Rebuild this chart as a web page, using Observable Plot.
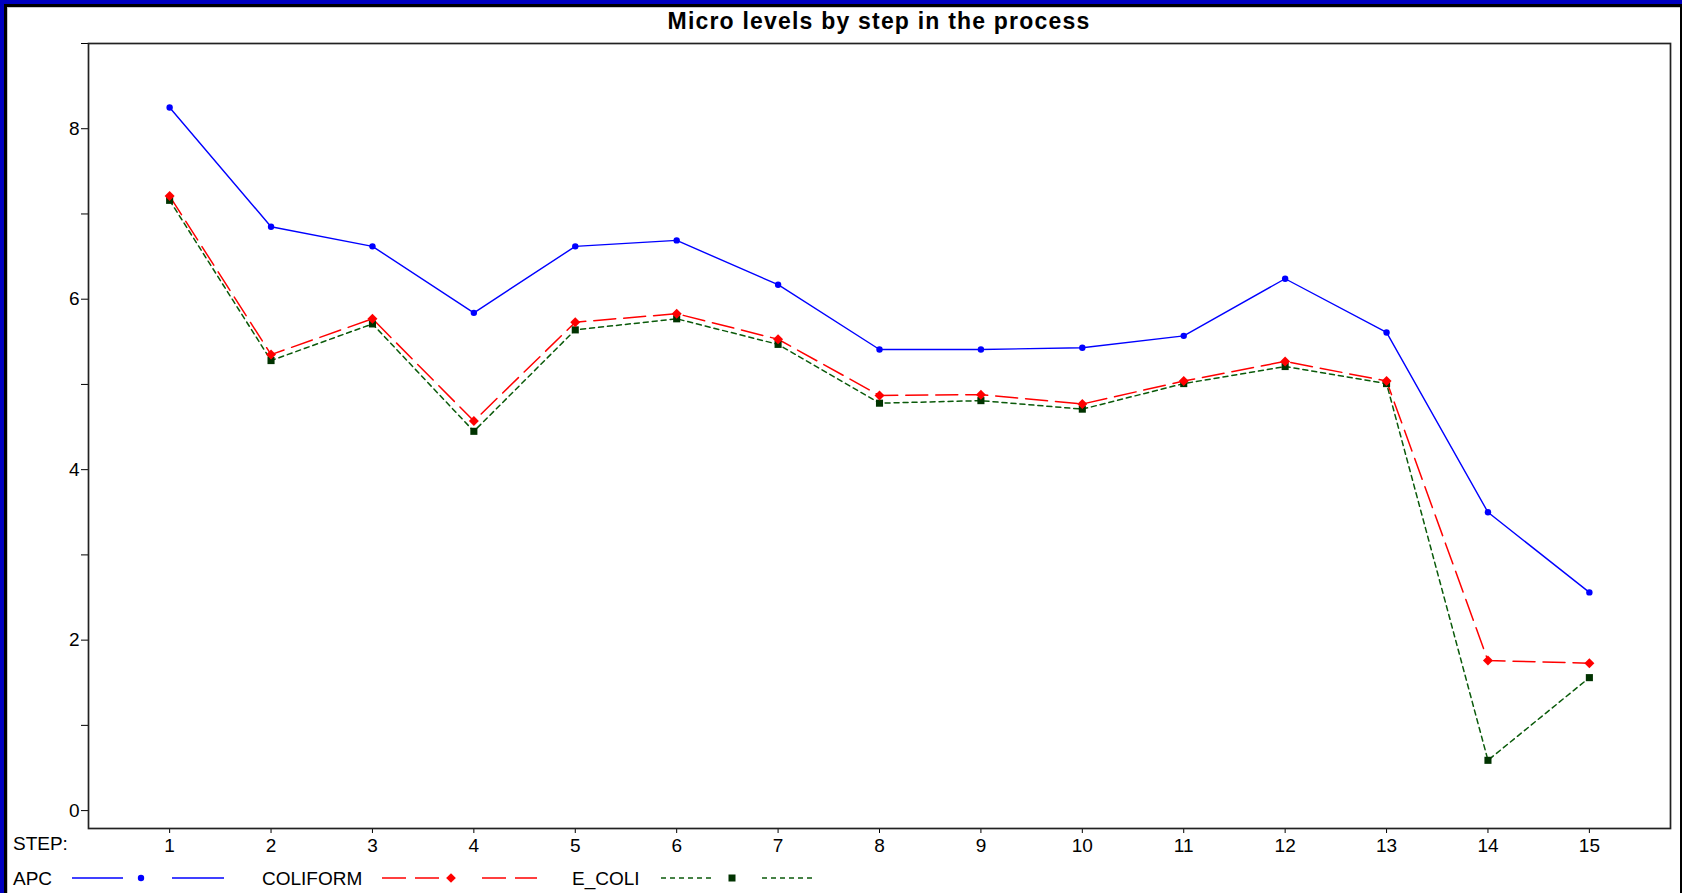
<!DOCTYPE html>
<html><head><meta charset="utf-8">
<script src="https://cdn.jsdelivr.net/npm/d3@7"></script>
<script src="https://cdn.jsdelivr.net/npm/@observablehq/plot@0.6"></script>
<style>
html,body{margin:0;padding:0;background:#fff;}
#page{position:relative;width:1682px;height:893px;overflow:hidden;background:#fff;font-family:"Liberation Sans",Arial,sans-serif;}
#b1{position:absolute;left:0;top:0;width:1682px;height:893px;box-sizing:border-box;border-left:4px solid #0000c0;border-top:4px solid #0000c0;}
#b2{position:absolute;left:4px;top:4px;width:1678px;height:889px;box-sizing:border-box;border-left:3px solid #000;border-top:3px solid #000;border-right:2px solid #000;}
#b3{position:absolute;left:7px;top:7px;width:1673px;height:886px;box-sizing:border-box;border-left:1px solid #c8c8c8;border-top:1px solid #c8c8c8;}
#chart{position:absolute;left:0;top:0;}
#title{position:absolute;left:0;width:1758px;top:8px;text-align:center;font-weight:bold;font-size:23px;letter-spacing:1.2px;color:#000;}
#steplab{position:absolute;left:13px;top:833px;font-size:19px;color:#000;}
#legend{position:absolute;left:0;top:860px;}
</style>
</head><body>
<div id="page">
  <div id="b1"></div><div id="b2"></div><div id="b3"></div>
  <div id="chart"></div>
  <div id="title">Micro levels by step in the process</div>
  <div id="steplab">STEP:</div>
  <div id="legend"></div>
</div>
<script>
const STEPS = [1,2,3,4,5,6,7,8,9,10,11,12,13,14,15];
const APC =      [8.25,6.85,6.62,5.84,6.62,6.69,6.17,5.41,5.41,5.43,5.57,6.24,5.61,3.50,2.56];
const COLIFORM = [7.21,5.35,5.77,4.57,5.73,5.83,5.53,4.87,4.88,4.77,5.04,5.27,5.04,1.76,1.73];
const E_COLI =   [7.16,5.28,5.71,4.45,5.64,5.77,5.47,4.78,4.81,4.71,5.01,5.21,5.01,0.59,1.56];
const Y_TICKS = [0,1,2,3,4,5,6,7,8,9];
const Y_LABELS = ["0","","2","","4","","6","","8",""];
const SERIES = ["APC","COLIFORM","E_COLI"];

const rows = STEPS.map((s,i)=>({step:s, APC:APC[i], COLIFORM:COLIFORM[i], E_COLI:E_COLI[i]}));

const BLUE="#0000ff", RED="#ff0000", GREEN="#0a5a0a", GREEN_M="#003300";

const chart = Plot.plot({
  width:1682, height:893,
  marginLeft:88, marginRight:12, marginTop:43, marginBottom:65,
  style:{fontFamily:"'Liberation Sans', Arial, sans-serif", fontSize:"19px", color:"#000", background:"transparent", overflow:"visible"},
  x:{domain:[0.2,15.8]},
  y:{domain:[-0.21,9]},
  marks:[
    Plot.axisX({ticks:STEPS, tickSize:5, tickPadding:5, tickFormat:d=>String(d), fontSize:19, label:null, stroke:"#000"}),
    Plot.axisY({ticks:Y_TICKS, tickSize:7, tickPadding:2, tickFormat:d=>Y_LABELS[Y_TICKS.indexOf(d)], fontSize:19, label:null, stroke:"#000"}),
    Plot.line(rows,{x:"step", y:"E_COLI", stroke:GREEN, strokeWidth:1.5, strokeDasharray:"5,4"}),
    Plot.line(rows,{x:"step", y:"COLIFORM", stroke:RED, strokeWidth:1.5, strokeDasharray:"22,8"}),
    Plot.line(rows,{x:"step", y:"APC", stroke:BLUE, strokeWidth:1.4}),
    Plot.dot(rows,{x:"step", y:"E_COLI", symbol:"square", r:4, fill:GREEN_M, stroke:"none"}),
    Plot.dot(rows,{x:"step", y:"COLIFORM", symbol:"diamond2", r:4.5, fill:RED, stroke:"none"}),
    Plot.dot(rows,{x:"step", y:"APC", symbol:"circle", r:3.2, fill:BLUE, stroke:"none"}),
    Plot.frame({stroke:"#222", strokeWidth:1.7})
  ]
});
document.getElementById("chart").appendChild(chart);

// legend
const lg = d3.select("#legend").append("svg").attr("width",1682).attr("height",33)
  .style("font-family","'Liberation Sans', Arial, sans-serif").style("font-size","19px");
const cy = 18;
const items = [
  {name:SERIES[0], tx:13, l1:[72,123], m:141, l2:[172,224], color:BLUE, dash:null, sym:"circle"},
  {name:SERIES[1], tx:262, l1:[382,442], m:451, l2:[482,537], color:RED, dash:"24,9", sym:"diamond"},
  {name:SERIES[2], tx:572, l1:[661,714], m:732, l2:[762,814], color:GREEN, dash:"5,4", sym:"square"}
];
items.forEach(it=>{
  lg.append("text").attr("x",it.tx).attr("y",cy).attr("dy","0.35em").attr("fill","#000").text(it.name);
  [it.l1,it.l2].forEach(seg=>{
    const ln = lg.append("line").attr("x1",seg[0]).attr("x2",seg[1]).attr("y1",cy).attr("y2",cy)
      .attr("stroke",it.color).attr("stroke-width",1.5);
    if(it.dash) ln.attr("stroke-dasharray",it.dash);
  });
  if(it.sym==="circle") lg.append("circle").attr("cx",it.m).attr("cy",cy).attr("r",3.2).attr("fill",it.color);
  if(it.sym==="diamond") lg.append("path").attr("d",d3.symbol(d3.symbolDiamond2,60)()).attr("transform",`translate(${it.m},${cy})`).attr("fill",it.color);
  if(it.sym==="square") lg.append("rect").attr("x",it.m-3.5).attr("y",cy-3.5).attr("width",7).attr("height",7).attr("fill",GREEN_M);
});
</script>
</body></html>
